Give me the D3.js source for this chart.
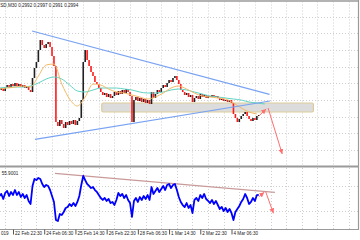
<!DOCTYPE html>
<html>
<head>
<meta charset="utf-8">
<script src="https://cdn.jsdelivr.net/npm/d3@7"></script>
<style>
  html, body { margin: 0; padding: 0; background: #fff; }
  svg { display: block; }
  text { font-family: "Liberation Sans", Arial, sans-serif; fill: #222; }
</style>
</head>
<body>
<svg id="chart" width="360" height="240"></svg>
<script>
"use strict";

const parse = d3.timeParse("%Y-%m-%d %H:%M");

// ---- data ----
// the window is cropped on the left, so only the visible part of these texts is kept
const headerText = "SD,M30  0.2992 0.2997 0.2991 0.2994";
const rsiText = "55.9001";

// closes, one every 2 hours from barsStart
const barsStart = parse("2019-02-22 08:30");
const closes = [
    0.3030, 0.3036, 0.3027, 0.3039, 0.3045, 0.3036, 0.3048, 0.3042, 0.3051, 0.3042,
    0.3048, 0.3039, 0.3045, 0.3036, 0.3042, 0.3030, 0.3024, 0.3066, 0.3096, 0.3114,
    0.3150, 0.3180, 0.3165, 0.3156, 0.3168, 0.3174, 0.3159, 0.3132, 0.3102, 0.2934,
    0.2922, 0.2940, 0.2928, 0.2916, 0.2934, 0.2925, 0.2937, 0.2928, 0.2940, 0.2925,
    0.2937, 0.2946, 0.3000, 0.3114, 0.3150, 0.3120, 0.3102, 0.3084, 0.3072, 0.3054,
    0.3048, 0.3036, 0.3024, 0.3015, 0.3021, 0.3009, 0.3018, 0.3006, 0.3012, 0.3024,
    0.3015, 0.3027, 0.3018, 0.3030, 0.3021, 0.3033, 0.3024, 0.3012, 0.2934, 0.3000,
    0.3009, 0.2997, 0.3006, 0.2994, 0.3003, 0.2991, 0.3000, 0.2988, 0.3024, 0.3006,
    0.3018, 0.3030, 0.3024, 0.3036, 0.3045, 0.3039, 0.3051, 0.3060, 0.3054, 0.3066,
    0.3072, 0.3060, 0.3048, 0.3030, 0.3024, 0.3015, 0.3021, 0.3009, 0.3015, 0.2994,
    0.3006, 0.3012, 0.3003, 0.3018, 0.3009, 0.3015, 0.3006, 0.3012, 0.3009, 0.3015,
    0.3009, 0.3012, 0.3006, 0.3000, 0.3003, 0.2997, 0.3000, 0.2994, 0.3000, 0.2991,
    0.2958, 0.2946, 0.2934, 0.2943, 0.2952, 0.2958, 0.2964, 0.2952, 0.2943, 0.2937,
    0.2946, 0.2940, 0.2952, 0.2955
];

// RSI, same timestamps as closes
const rsiValues = [
    54.0, 57.3, 49.2, 58.9, 62.1, 54.0, 60.5, 55.6, 63.7, 55.6,
    60.5, 52.4, 57.3, 50.8, 55.6, 46.0, 41.1, 70.2, 81.5, 79.8,
    83.1, 81.5, 73.4, 68.5, 71.8, 70.2, 63.7, 54.0, 44.4, 15.3,
    13.7, 25.0, 23.4, 28.2, 34.7, 36.3, 41.1, 37.9, 42.7, 37.9,
    44.4, 54.0, 71.8, 86.3, 79.8, 73.4, 70.2, 66.9, 68.5, 63.7,
    60.5, 55.6, 50.8, 47.6, 50.8, 46.0, 49.2, 42.7, 44.4, 39.5,
    47.6, 58.9, 54.0, 57.3, 50.8, 55.6, 47.6, 42.7, 20.2, 46.0,
    50.8, 44.4, 52.4, 47.6, 54.0, 49.2, 55.6, 47.6, 68.5, 57.3,
    62.1, 66.9, 60.5, 65.3, 70.2, 63.7, 71.8, 73.4, 66.9, 71.8,
    73.4, 63.7, 52.4, 44.4, 39.5, 36.3, 42.7, 34.7, 39.5, 26.6,
    47.6, 50.8, 46.0, 55.6, 50.8, 57.3, 49.2, 46.0, 42.7, 47.6,
    41.1, 46.0, 39.5, 33.1, 36.3, 29.8, 34.7, 28.2, 33.1, 26.6,
    15.3, 28.2, 33.1, 37.9, 44.4, 49.2, 57.3, 50.8, 41.1, 44.4,
    50.8, 46.0, 55.6, 55.9
];

// moving averages, one every 8 hours from barsStart
const maFast = [
    0.3033, 0.3036, 0.3039, 0.3042, 0.3039, 0.3072, 0.3105, 0.3108, 0.3048, 0.3003,
    0.2982, 0.3009, 0.3048, 0.3045, 0.3033, 0.3024, 0.3021, 0.3015, 0.3009, 0.3003,
    0.3009, 0.3021, 0.3036, 0.3042, 0.3033, 0.3021, 0.3012, 0.3009, 0.3006, 0.3003,
    0.2991, 0.2976, 0.2964, 0.2958
];
const maSlow = [
    0.3036, 0.3038, 0.3039, 0.3039, 0.3042, 0.3051, 0.3063, 0.3069, 0.3063, 0.3045,
    0.3027, 0.3024, 0.3030, 0.3036, 0.3036, 0.3036, 0.3033, 0.3030, 0.3024, 0.3021,
    0.3021, 0.3024, 0.3030, 0.3033, 0.3030, 0.3024, 0.3018, 0.3012, 0.3009, 0.3006,
    0.3003, 0.3000, 0.2994, 0.2991, 0.2988
];

const tickDates = ["2019-02-21 14:30", "2019-02-22 22:30", "2019-02-24 06:30", "2019-02-25 14:30",
    "2019-02-26 22:30", "2019-02-28 06:30", "2019-03-01 14:30", "2019-03-02 22:30", "2019-03-04 06:30"];
const tickLabels = ["019", "22 Feb 22:30", "24 Feb 06:30", "25 Feb 14:30",
    "26 Feb 22:30", "28 Feb 06:30", "1 Mar 14:30", "2 Mar 22:30", "4 Mar 06:30"];

// drawn objects, in time / value units
const upperTrend = [["2019-02-23 18:00", 0.3207], ["2019-03-05 21:30", 0.3017]];
const lowerTrend = [["2019-02-23 21:00", 0.2882], ["2019-03-05 22:00", 0.2997]];
const zoneBox = { from: "2019-02-26 17:30", to: "2019-03-07 18:30", top: 0.2991, bottom: 0.2964 };
const priceArrows = [
    [["2019-03-05 10:30", 0.2952], ["2019-03-05 18:00", 0.2973]],
    [["2019-03-05 20:00", 0.2976], ["2019-03-06 10:30", 0.2838]]
];
const rsiTrend = [["2019-02-24 17:30", 90.6], ["2019-03-06 03:00", 60.0]];
const rsiArrows = [
    [["2019-03-05 10:30", 52.9], ["2019-03-05 16:00", 60.0]],
    [["2019-03-05 17:30", 61.0], ["2019-03-06 01:30", 26.1]]
];

const priceGrid = [0.285, 0.290, 0.295, 0.300, 0.305, 0.310, 0.315, 0.320, 0.325];
const rsiGrid = [30, 70];

// ---- chart ----
const svg = d3.select("#chart");

const x = d3.scaleTime()
    .domain([parse("2019-02-22 22:30"), parse("2019-03-04 06:30")])
    .range([13, 231.5]);
const yPrice = d3.scaleLinear().domain([0.285, 0.325]).range([150, 16.7]);
const yRsi = d3.scaleLinear().domain([0, 100]).range([229.5, 167.5]);

const defs = svg.append("defs");
defs.append("clipPath").attr("id", "clipTop")
    .append("rect").attr("x", 0).attr("y", 1.5).attr("width", 358).attr("height", 164.5);
defs.append("clipPath").attr("id", "clipBottom")
    .append("rect").attr("x", 0).attr("y", 168).attr("width", 358).attr("height", 61);
defs.append("marker")
    .attr("id", "arrowHead")
    .attr("markerUnits", "userSpaceOnUse")
    .attr("markerWidth", 6).attr("markerHeight", 6)
    .attr("refX", 5).attr("refY", 2.5)
    .attr("orient", "auto")
    .append("path").attr("d", "M0,0 L5,2.5 L0,5 Z").attr("fill", "#ff6f6f");

// vertical grid, every 16 hours
const gridStart = parse("2019-02-21 22:30");
const gridDates = d3.range(0, 24).map(k => d3.timeHour.offset(gridStart, 16 * k));

const topPanel = svg.append("g").attr("clip-path", "url(#clipTop)");
const bottomPanel = svg.append("g").attr("clip-path", "url(#clipBottom)");

function drawGrid(g, y0, y1) {
    g.selectAll(".vgrid").data(gridDates).join("line")
        .attr("class", "vgrid")
        .attr("x1", d => Math.round(x(d)) + 0.5).attr("x2", d => Math.round(x(d)) + 0.5)
        .attr("y1", y0).attr("y2", y1)
        .attr("stroke", "#cfcfcf").attr("stroke-width", 1)
        .attr("stroke-dasharray", "1,2");
}
drawGrid(topPanel, 1.5, 166);
drawGrid(bottomPanel, 168, 229);

topPanel.selectAll(".hgrid").data(priceGrid).join("line")
    .attr("class", "hgrid")
    .attr("x1", 0).attr("x2", 358)
    .attr("y1", d => Math.round(yPrice(d)) + 0.5).attr("y2", d => Math.round(yPrice(d)) + 0.5)
    .attr("stroke", "#cfcfcf").attr("stroke-dasharray", "1,2");
bottomPanel.selectAll(".hgrid").data(rsiGrid).join("line")
    .attr("class", "hgrid")
    .attr("x1", 0).attr("x2", 358)
    .attr("y1", d => Math.round(yRsi(d)) + 0.5).attr("y2", d => Math.round(yRsi(d)) + 0.5)
    .attr("stroke", "#cfcfcf").attr("stroke-dasharray", "1,2");

// support zone
topPanel.append("rect")
    .attr("x", x(parse(zoneBox.from)))
    .attr("y", yPrice(zoneBox.top))
    .attr("width", x(parse(zoneBox.to)) - x(parse(zoneBox.from)))
    .attr("height", yPrice(zoneBox.bottom) - yPrice(zoneBox.top))
    .attr("rx", 1.5)
    .attr("fill", "#dcdcdc")
    .attr("stroke", "#dccb9a")
    .attr("stroke-width", 1.2);

// candles: open = previous close
const candles = closes.slice(1).map((c, i) => ({
    t: d3.timeHour.offset(barsStart, 2 * (i + 1)),
    o: closes[i],
    c: c
}));
topPanel.selectAll(".candle").data(candles).join("rect")
    .attr("class", "candle")
    .attr("x", d => x(d.t) - 0.8)
    .attr("width", 1.6)
    .attr("y", d => yPrice(Math.max(d.o, d.c)))
    .attr("height", d => Math.max(1, Math.abs(yPrice(d.o) - yPrice(d.c))))
    .attr("fill", d => d.c < d.o ? "#ff1a1a" : "#202020");

// moving averages
const maLine = d3.line()
    .x((d, i) => x(d3.timeHour.offset(barsStart, 8 * i)))
    .y(d => yPrice(d))
    .curve(d3.curveMonotoneX);
topPanel.append("path").datum(maSlow).attr("d", maLine)
    .attr("fill", "none").attr("stroke", "#5fd3c4").attr("stroke-width", 1);
topPanel.append("path").datum(maFast).attr("d", maLine)
    .attr("fill", "none").attr("stroke", "#f3b866").attr("stroke-width", 1);

// trend lines
const segPrice = d3.line().x(d => x(parse(d[0]))).y(d => yPrice(d[1]));
const segRsi = d3.line().x(d => x(parse(d[0]))).y(d => yRsi(d[1]));

[upperTrend, lowerTrend].forEach(tl => {
    topPanel.append("path").datum(tl).attr("d", segPrice)
        .attr("fill", "none").attr("stroke", "#79a3f2").attr("stroke-width", 1.2);
});
priceArrows.forEach(a => {
    topPanel.append("path").datum(a).attr("d", segPrice)
        .attr("fill", "none").attr("stroke", "#ff6f6f").attr("stroke-width", 1)
        .attr("marker-end", "url(#arrowHead)");
});

// RSI window
bottomPanel.append("path").datum(rsiTrend).attr("d", segRsi)
    .attr("fill", "none").attr("stroke", "#c99a9a").attr("stroke-width", 1.2);

const rsiLine = d3.line()
    .x((d, i) => x(d3.timeHour.offset(barsStart, 2 * i)))
    .y(d => yRsi(d));
bottomPanel.append("path").datum(rsiValues).attr("d", rsiLine)
    .attr("fill", "none").attr("stroke", "#0000ff").attr("stroke-width", 1.8)
    .attr("stroke-linejoin", "round");

rsiArrows.forEach(a => {
    bottomPanel.append("path").datum(a).attr("d", segRsi)
        .attr("fill", "none").attr("stroke", "#ff6f6f").attr("stroke-width", 1)
        .attr("marker-end", "url(#arrowHead)");
});

// frames
const frame = svg.append("g").attr("stroke", "#9a9a9a").attr("fill", "none");
frame.append("line").attr("x1", 0).attr("x2", 359).attr("y1", 1).attr("y2", 1).attr("stroke-width", 1.5);
frame.append("line").attr("x1", 0).attr("x2", 359).attr("y1", 166.5).attr("y2", 166.5).attr("stroke-width", 2);
frame.append("line").attr("x1", 0).attr("x2", 359).attr("y1", 229.5).attr("y2", 229.5).attr("stroke-width", 1);
frame.append("line").attr("x1", 358.5).attr("x2", 358.5).attr("y1", 0).attr("y2", 230).attr("stroke-width", 1.2);

// time axis, labels sit right of their tick
const axis = d3.axisBottom(x)
    .tickValues(tickDates.map(parse))
    .tickFormat((d, i) => tickLabels[i])
    .tickSize(5)
    .tickSizeOuter(0);
const axisG = svg.append("g").attr("transform", "translate(0,229.5)").call(axis);
axisG.select(".domain").remove();
axisG.selectAll(".tick line").attr("stroke", "#555");
axisG.selectAll(".tick text")
    .attr("text-anchor", "start")
    .attr("x", (d, i) => i === 0 ? 0.5 - x(d) : 1.5)
    .attr("y", 2)
    .attr("font-size", 4.6)
    .attr("fill", "#222");

// labels
svg.append("text").attr("x", 0.3).attr("y", 7).attr("font-size", 4.6).text(headerText);
svg.append("text").attr("x", 1.7).attr("y", 174.5).attr("font-size", 4.6).text(rsiText);
</script>
</body>
</html>
